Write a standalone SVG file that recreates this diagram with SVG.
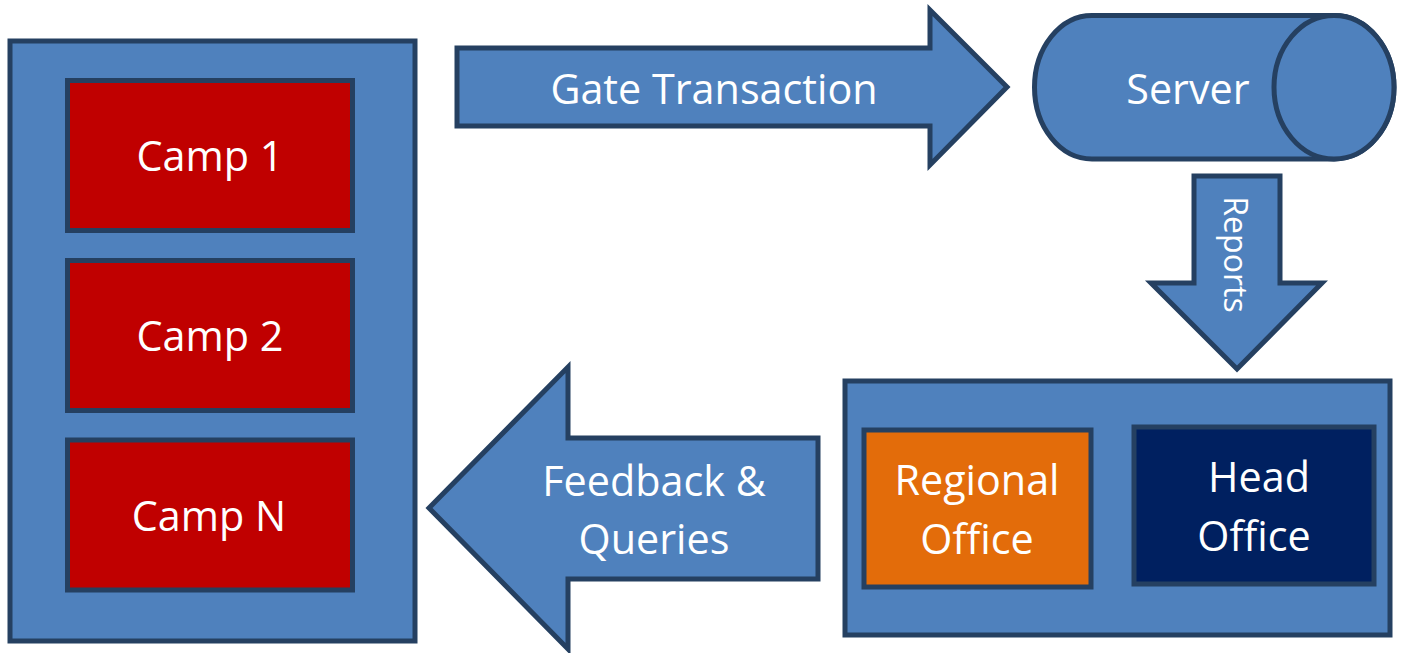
<svg xmlns="http://www.w3.org/2000/svg" width="1404" height="653" viewBox="0 0 1404 653">
<style>
.s{fill:#4f81bd;stroke:#254061;stroke-width:5}
.r{fill:#c00000;stroke:#254061;stroke-width:5}
text{font-family:"Open Sans","Noto Sans",sans-serif;font-size:41.3px;fill:#fff;text-anchor:middle}
</style>
<rect width="1404" height="653" fill="#fff"/>
<g id="camps"><rect class="s" x="10" y="41" width="405" height="600"/></g>
<g id="camp1"><rect class="r" x="67.5" y="80.5" width="285" height="150"/><text x="210" y="171">Camp 1</text></g>
<g id="camp2"><rect class="r" x="67.5" y="260.5" width="285" height="150"/><text x="210" y="351">Camp 2</text></g>
<g id="campN"><rect class="r" x="67.5" y="440" width="285" height="150"/><text x="209" y="531">Camp N</text></g>
<g id="connectors">
<g id="gate"><path class="s" d="M457 48H930V10L1007 87L930 165V126H457Z"/><text x="714" y="104">Gate Transaction</text></g>
<g id="reports"><path class="s" d="M1194 176H1280V283H1322L1237 369L1151 283H1194Z"/><text transform="translate(1224 254.500) rotate(90)" style="font-size:32px">Reports</text></g>
<g id="feedback"><path class="s" d="M818 438H568V367L429 508L568 649V579H818Z"/><text x="654" y="496">Feedback &amp;</text><text x="654" y="554">Queries</text></g>
</g>
<g id="server"><path class="s" d="M1092 15.500H1334A60 71.750 0 0 1 1334 159H1092A57.500 71.750 0 0 1 1092 15.500Z"/><ellipse class="s" cx="1334" cy="87.250" rx="60" ry="71.750"/><text x="1188" y="104">Server</text></g>
<g id="offices"><rect class="s" x="845" y="381" width="545" height="254"/></g>
<g id="regional"><rect x="864" y="430" width="227" height="157" fill="#e36c0a" stroke="#254061" stroke-width="5"/><text x="977" y="495">Regional</text><text x="977" y="554">Office</text></g>
<g id="head"><rect x="1134" y="427" width="240" height="157" fill="#002060" stroke="#254061" stroke-width="5"/><text x="1259" y="492">Head</text><text x="1254" y="551">Office</text></g>
</svg>
